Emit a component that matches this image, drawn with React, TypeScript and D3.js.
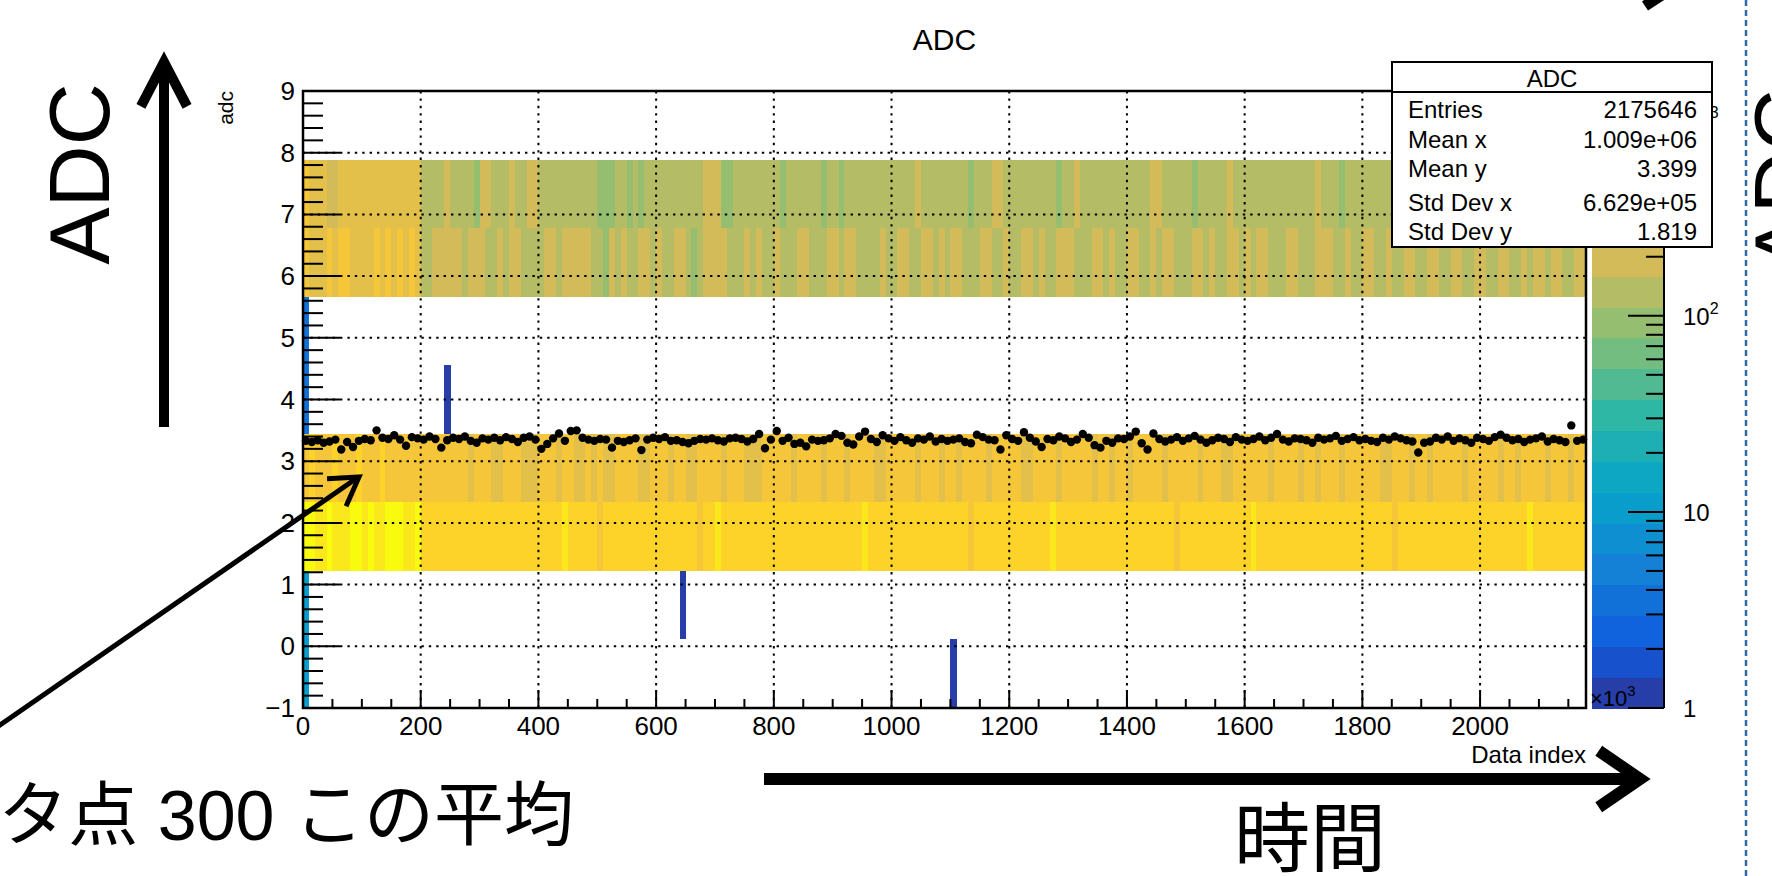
import { scaleLinear, scaleLog, range } from "d3";

const FONT = "'Liberation Sans', Arial, Helvetica, sans-serif";
const JP_FONT = "'Liberation Sans', 'Noto Sans CJK JP', sans-serif";

// x: data index (x10^3), 218 bins of width 10
const X_MAX = 2180;
const X_BIN = 10;
// y: adc, 9 bins between -1 and 9
const Y_MIN = -1;
const Y_MAX = 9;
const N_YBINS = 9;

const xMajor = [0, 200, 400, 600, 800, 1000, 1200, 1400, 1600, 1800, 2000];
const yMajor = [-1, 0, 1, 2, 3, 4, 5, 6, 7, 8, 9];

// counts behind the colour classes used below
const zClassCounts: Record<string, number> = {
  n: 95, o: 135, g: 190, G: 270, r: 400, y: 560, Y: 820, W: 1250,
};

// one character per x bin, for each filled adc bin
const adcBin7 = [
  "rGGGggGGGG", "GGGGGGGGGG", "oooogoooon", "ggooogoogg", "oooooooooo",
  "nnnoononoo", "oooooooogg", "gnnooooooo", "onoooooono", "onoooooooo",
  "oooogooooo", "ooonoooggo", "oooooooono", "ogoooooooo", "ooooggoooo",
  "onooooogoo", "oooooooooo", "oogooonooo", "ooooooogoo", "oooonooooo",
  "ogooooooog", "ooogoooo",
].join("");
const adcBin6 = [
  "rGGGrGrrGG", "GGrGrGrGrG", "oogggggogg", "googoggooo", "oggogggggo",
  "ongogooggo", "googgonogg", "ggooogogoo", "goooggooog", "goggoooogo",
  "oggooggogo", "ggoooggoog", "ooggogoogg", "goooggogoo", "ggoogoggoo",
  "oggogooggo", "goggoooggo", "oogggoogoo", "ggoogooggo", "oggooggoog",
  "googgoogog", "goggoogg",
].join("");
const adcBin3 = [
  "ryrrryrrry", "rrryrrrrrr", "rrrrrrrrGr", "rrGGrrrGGG", "rrrGrrGGrG",
  "rGGrrrrGGr", "rrGrrGGrrr", "rGrrrGGGrr", "rrrGrrrrGr", "rrGrrrrGGr",
  "rrrrGrrrGr", "rGrrrrGrrr", "rrGGrrrrGr", "rrrrGrrGrr", "GrrrrrGrrr",
  "rrGrrrGGrr", "rrrrGrrrrG", "rrGrrrGrrr", "rrrGGrrrGr", "rGrrrrrGrr",
  "rrrGrrGrrr", "rGrrrGrr",
].join("");
const adcBin2 = [
  "WWYYWYYYWW", "YWYYWWWYYW", "yyyyyyyyyy", "yyyyyyyyyy", "yyyyYyyyyy",
  "ryyyyyyyyy", "yyyyyyyryy", "Yyyyyyyyyy", "yyyyyyyyyy", "yyyyyYyyyy",
  "yyyyyyyyyy", "yyyryyyyyy", "yyyyyyyYyy", "yyyyyyyyyy", "yyyyyyyyry",
  "yyyyyyyyyy", "yYyyyyyyyy", "yyyyyyyyyy", "yyyyyryyyy", "yyyyyyyyyy",
  "yyyyyyyyYy", "yyyyyyyy",
].join("");

const filledBands = [
  { ybin: 2, classes: adcBin2 },
  { ybin: 3, classes: adcBin3 },
  { ybin: 6, classes: adcBin6 },
  { ybin: 7, classes: adcBin7 },
];

// isolated low-count cells: [x bin, adc bin, count]
const lowCells: [number, number, number][] = [
  [0, 0, 11], [0, 1, 11], [0, 4, 4], [0, 5, 4],
  [24, 4, 1], [64, 1, 1], [110, 0, 1],
];

// profile: mean adc per x bin
const profileMeans = [
  3.33, 3.31, 3.34, 3.30, 3.32, 3.35, 3.19, 3.31, 3.23, 3.33,
  3.36, 3.34, 3.50, 3.38, 3.36, 3.42, 3.35, 3.25, 3.39, 3.37,
  3.35, 3.40, 3.36, 3.22, 3.34, 3.38, 3.36, 3.40, 3.33, 3.30,
  3.37, 3.35, 3.38, 3.34, 3.39, 3.36, 3.31, 3.38, 3.40, 3.35,
  3.20, 3.28, 3.37, 3.45, 3.33, 3.49, 3.50, 3.38, 3.35, 3.33,
  3.36, 3.35, 3.22, 3.33, 3.31, 3.34, 3.37, 3.18, 3.35, 3.38,
  3.36, 3.39, 3.33, 3.34, 3.31, 3.29, 3.33, 3.36, 3.35, 3.37,
  3.34, 3.32, 3.37, 3.38, 3.36, 3.32, 3.36, 3.44, 3.21, 3.35,
  3.49, 3.33, 3.38, 3.28, 3.30, 3.24, 3.35, 3.33, 3.34, 3.37,
  3.44, 3.41, 3.30, 3.27, 3.40, 3.48, 3.36, 3.31, 3.42, 3.37,
  3.33, 3.39, 3.34, 3.30, 3.37, 3.35, 3.40, 3.32, 3.36, 3.33,
  3.35, 3.37, 3.31, 3.29, 3.43, 3.39, 3.35, 3.34, 3.19, 3.42,
  3.36, 3.33, 3.47, 3.38, 3.32, 3.23, 3.36, 3.34, 3.40, 3.37,
  3.31, 3.35, 3.44, 3.38, 3.26, 3.22, 3.33, 3.30, 3.37, 3.36,
  3.40, 3.48, 3.29, 3.19, 3.45, 3.36, 3.32, 3.35, 3.39, 3.33,
  3.37, 3.41, 3.35, 3.30, 3.34, 3.38, 3.36, 3.31, 3.39, 3.35,
  3.33, 3.36, 3.40, 3.34, 3.38, 3.44, 3.35, 3.32, 3.37, 3.36,
  3.34, 3.30, 3.38, 3.35, 3.37, 3.41, 3.33, 3.36, 3.39, 3.34,
  3.36, 3.33, 3.31, 3.38, 3.35, 3.40, 3.37, 3.34, 3.32, 3.14,
  3.30, 3.32, 3.38, 3.35, 3.40, 3.33, 3.37, 3.34, 3.30, 3.38,
  3.36, 3.33, 3.39, 3.43, 3.38, 3.34, 3.36, 3.31, 3.35, 3.37,
  3.40, 3.32, 3.36, 3.34, 3.31, 3.58, 3.33, 3.35,
];

const statsRows = [
  ["Entries", "2175646"],
  ["Mean x", "1.009e+06"],
  ["Mean y", "3.399"],
  ["Std Dev x", "6.629e+05"],
  ["Std Dev y", "1.819"],
];

// kBird palette, 20 contours on a log z axis
const Z_MAX = 1400;
const N_CONT = 20;
const birdStops = [0, 0.125, 0.25, 0.375, 0.5, 0.625, 0.75, 0.875, 1];
const birdColors = [
  "#352a87", "#0f5cdd", "#1481d6", "#06a4ca", "#2eb7a4",
  "#87bf77", "#d1bb59", "#fec832", "#f9fb0e",
];

const frame = { left: 303, right: 1586, top: 91, bottom: 708 };
const pal = { left: 1592, right: 1664 };

function chevron(tx: number, ty: number, angle: number, len: number, spread: number) {
  const a1 = angle + Math.PI - spread;
  const a2 = angle + Math.PI + spread;
  return `M${tx + len * Math.cos(a1)},${ty + len * Math.sin(a1)} L${tx},${ty} L${tx + len * Math.cos(a2)},${ty + len * Math.sin(a2)}`;
}

export default function App() {
  const x = scaleLinear().domain([0, X_MAX]).range([frame.left, frame.right]);
  const y = scaleLinear().domain([Y_MIN, Y_MAX]).range([frame.bottom, frame.top]);
  const z = scaleLog().domain([1, Z_MAX]).range([frame.bottom, frame.top]);
  const bird = scaleLinear<string>().domain(birdStops).range(birdColors);
  const logMax = Math.log10(Z_MAX);
  const levelColor = (k: number) => bird(Math.floor(((k + 0.99) * 255) / N_CONT) / 254);
  const colorOf = (count: number) =>
    levelColor(Math.min(N_CONT - 1, Math.floor((Math.log10(count) / logMax) * N_CONT)));
  const yEdge = (j: number) => Y_MIN + (j * (Y_MAX - Y_MIN)) / N_YBINS;

  const cells: { i: number; j: number; count: number }[] = [];
  filledBands.forEach(({ ybin, classes }) => {
    for (let i = 0; i < classes.length; i++) cells.push({ i, j: ybin, count: zClassCounts[classes[i]] });
  });
  lowCells.forEach(([i, j, count]) => cells.push({ i, j, count }));

  const xMinor = range(0, X_MAX, 50).filter((v) => v % 200 !== 0);
  const yMinor = range(-1, 9.001, 0.2).filter((v) => Math.abs(v - Math.round(v)) > 0.01);
  const zMinor: number[] = [];
  [1, 10, 100, 1000].forEach((d) => range(2, 10).forEach((m) => m * d < Z_MAX && zMinor.push(m * d)));

  const diagAngle = Math.atan2(477 - 732, 359 - -10);

  return (
    <svg width={1772} height={876} style={{ position: "absolute", left: 0, top: 0, background: "#fff" }}>
      {/* 2D histogram cells */}
      <g shapeRendering="crispEdges">
        {cells.map((c, k) => (
          <rect
            key={k}
            x={x(c.i * X_BIN)}
            y={y(yEdge(c.j + 1))}
            width={x((c.i + 1) * X_BIN) - x(c.i * X_BIN) + 0.6}
            height={y(yEdge(c.j)) - y(yEdge(c.j + 1))}
            fill={colorOf(c.count)}
          />
        ))}
      </g>

      {/* grid */}
      <g stroke="#000" strokeWidth={2} strokeDasharray="2.4 5">
        {xMajor.filter((v) => v > 0).map((v) => (
          <line key={v} x1={x(v)} x2={x(v)} y1={frame.top} y2={frame.bottom} />
        ))}
        {yMajor.filter((v) => v > Y_MIN && v < Y_MAX).map((v) => (
          <line key={v} x1={frame.left} x2={frame.right} y1={y(v)} y2={y(v)} />
        ))}
      </g>

      {/* profile */}
      <g fill="#000">
        {profileMeans.map((m, i) => (
          <circle key={i} cx={x(i * X_BIN + X_BIN / 2)} cy={y(m)} r={4.2} />
        ))}
      </g>

      {/* axes */}
      <g stroke="#000" strokeWidth={2}>
        {yMajor.map((v) => (
          <line key={v} x1={frame.left} x2={frame.left + 37} y1={y(v)} y2={y(v)} />
        ))}
        {yMinor.map((v, i) => (
          <line key={i} x1={frame.left} x2={frame.left + 20} y1={y(v)} y2={y(v)} />
        ))}
        {xMajor.map((v) => (
          <line key={v} x1={x(v)} x2={x(v)} y1={frame.bottom} y2={frame.bottom - 18} />
        ))}
        {xMinor.map((v) => (
          <line key={v} x1={x(v)} x2={x(v)} y1={frame.bottom} y2={frame.bottom - 9} />
        ))}
      </g>
      <rect
        x={frame.left}
        y={frame.top}
        width={frame.right - frame.left}
        height={frame.bottom - frame.top}
        fill="none"
        stroke="#000"
        strokeWidth={2.5}
      />
      <g fontFamily={FONT} fontSize={26} fill="#000">
        {yMajor.map((v) => (
          <text key={v} x={295} y={y(v) + 9} textAnchor="end">
            {v < 0 ? `\u2212${-v}` : v}
          </text>
        ))}
        {xMajor.map((v) => (
          <text key={v} x={x(v)} y={735} textAnchor="middle">
            {v}
          </text>
        ))}
      </g>
      <text x={frame.right} y={763} textAnchor="end" fontFamily={FONT} fontSize={24}>
        Data index
      </text>
      <text transform={`translate(233,${frame.top}) rotate(-90)`} textAnchor="end" fontFamily={FONT} fontSize={21}>
        adc
      </text>
      <text x={(frame.left + frame.right) / 2} y={50} textAnchor="middle" fontFamily={FONT} fontSize={30}>
        ADC
      </text>

      {/* palette */}
      <g shapeRendering="crispEdges">
        {range(N_CONT).map((k) => {
          const lo = Math.pow(10, (k * logMax) / N_CONT);
          const hi = Math.pow(10, ((k + 1) * logMax) / N_CONT);
          return (
            <rect key={k} x={pal.left} width={pal.right - pal.left} y={z(hi)} height={z(lo) - z(hi) + 0.6} fill={levelColor(k)} />
          );
        })}
      </g>
      <g stroke="#000" strokeWidth={2}>
        <line x1={pal.right} x2={pal.right} y1={frame.top} y2={frame.bottom} />
        {[1, 10, 100, 1000].map((v) => (
          <line key={v} x1={pal.right} x2={pal.right - 36} y1={z(v)} y2={z(v)} />
        ))}
        {zMinor.map((v) => (
          <line key={v} x1={pal.right} x2={pal.right - 18} y1={z(v)} y2={z(v)} />
        ))}
      </g>
      <g fontFamily={FONT} fontSize={24}>
        <text x={1683} y={z(1) + 9}>1</text>
        <text x={1683} y={z(10) + 9}>10</text>
        <text x={1683} y={z(100) + 9}>
          10<tspan dy={-11} fontSize={16}>2</tspan>
        </text>
        <text x={1683} y={z(1000) + 9}>
          10<tspan dy={-11} fontSize={16}>3</tspan>
        </text>
      </g>
      <text x={1590} y={706} fontFamily={FONT} fontSize={22}>
        ×10<tspan dy={-10} fontSize={15}>3</tspan>
      </text>

      {/* stats box */}
      <g fontFamily={FONT} fontSize={24}>
        <rect x={1392} y={62} width={320} height={185} fill="#fff" stroke="#000" strokeWidth={2} />
        <line x1={1392} x2={1712} y1={92} y2={92} stroke="#000" strokeWidth={2} />
        <text x={1552} y={87} textAnchor="middle">ADC</text>
        {statsRows.map(([k, v], i) => (
          <g key={k}>
            <text x={1408} y={[118, 148, 177, 211, 240][i]}>{k}</text>
            <text x={1697} y={[118, 148, 177, 211, 240][i]} textAnchor="end">{v}</text>
          </g>
        ))}
      </g>

      {/* slide annotations */}
      <text transform="translate(109,174) rotate(-90)" textAnchor="middle" fontFamily={FONT} fontSize={86}>
        ADC
      </text>
      <line x1={164} x2={164} y1={427} y2={68} stroke="#000" strokeWidth={10} />
      <path d={chevron(164, 62, -Math.PI / 2, 50, 0.48)} fill="none" stroke="#000" strokeWidth={10} strokeLinejoin="miter" />

      <line x1={-10} y1={732} x2={357} y2={478} stroke="#000" strokeWidth={5} />
      <path d={chevron(359, 477, diagAngle, 32, 0.55)} fill="none" stroke="#000" strokeWidth={5} />
      <text x={574} y={840} textAnchor="end" fontFamily={JP_FONT} fontSize={70}>
        データ点 300 この平均
      </text>

      <line x1={764} x2={1632} y1={779} y2={779} stroke="#000" strokeWidth={12} />
      <path d={chevron(1640, 779, 0, 50, 0.6)} fill="none" stroke="#000" strokeWidth={12} strokeLinejoin="miter" />
      <text x={1310} y={866} textAnchor="middle" fontFamily="'Noto Sans CJK JP', sans-serif" fontSize={76}>
        時間
      </text>

      <line x1={1746} x2={1746} y1={0} y2={876} stroke="#2e6aa6" strokeWidth={2.5} strokeDasharray="6 4" />
      <text transform="translate(1814,180) rotate(-90)" textAnchor="middle" fontFamily={FONT} fontSize={86}>
        ADC
      </text>
      <line x1={1645} y1={6} x2={1700} y2={-30} stroke="#000" strokeWidth={11} />
    </svg>
  );
}
